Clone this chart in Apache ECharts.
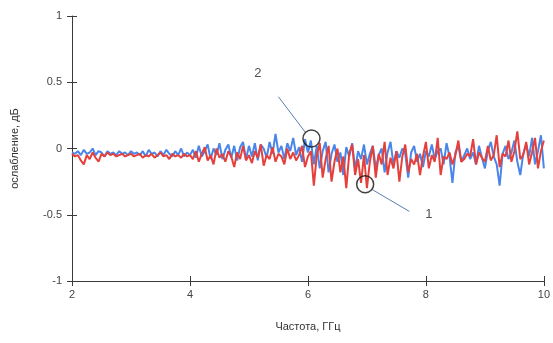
<!DOCTYPE html>
<html>
<head>
<meta charset="utf-8">
<script src="https://cdn.jsdelivr.net/npm/echarts@6/dist/echarts.min.js"></script>
<style>
  html, body { margin: 0; padding: 0; background: #fff; }
  #chart { width: 553px; height: 343px; }
</style>
</head>
<body>
<div id="chart"></div>
<script>
// frequency range, GHz
var freqStart = 2;
var freqEnd = 10;
var xTicks = [2, 4, 6, 8, 10];
var yTicks = [-1, -0.5, 0, 0.5, 1];

// series 1 (blue)
var blueValues = [
  -0.03,-0.04,-0.02,-0.05,-0.01,-0.04,-0.03,0.0,-0.05,-0.02,-0.03,-0.06,-0.02,-0.04,-0.03,-0.05,-0.02,-0.04,-0.03,-0.05,-0.02,
  -0.04,-0.03,-0.05,-0.02,-0.06,-0.01,-0.04,-0.03,-0.06,-0.02,-0.05,-0.01,-0.04,-0.06,-0.02,-0.05,0.0,-0.06,-0.03,-0.05,
  -0.01,-0.07,0.02,-0.06,-0.02,0.03,-0.08,0.0,-0.05,0.04,-0.08,-0.01,0.03,-0.07,0.02,-0.09,0.01,0.05,-0.08,0.02,
  -0.06,0.04,-0.09,0.03,0.0,-0.07,0.05,-0.04,0.11,-0.03,0.02,-0.08,0.04,-0.02,0.08,-0.05,0.01,-0.1,0.07,-0.03,
  0.06,-0.12,0.02,-0.15,-0.02,0.05,-0.18,-0.04,0.03,-0.1,-0.03,-0.2,0.01,-0.06,0.04,-0.16,-0.02,-0.08,0.03,-0.12,
  -0.04,0.02,-0.15,-0.05,0.0,-0.18,-0.03,0.05,-0.12,-0.02,-0.07,0.0,-0.04,-0.22,-0.03,0.02,-0.1,-0.04,-0.14,-0.02,
  -0.06,0.03,-0.08,-0.02,0.0,-0.12,0.04,-0.06,-0.26,-0.03,0.02,-0.1,-0.05,0.0,-0.08,-0.03,-0.12,0.02,-0.07,-0.15,
  -0.02,0.05,-0.06,-0.12,-0.28,-0.04,0.02,-0.08,-0.03,0.06,-0.1,-0.2,-0.04,0.03,-0.06,0.08,-0.12,-0.02,0.1,-0.15
];

// series 2 (red)
var redValues = [
  -0.04,-0.06,-0.05,-0.09,-0.12,-0.05,-0.08,-0.03,-0.07,-0.1,-0.04,-0.06,-0.03,-0.05,-0.04,-0.06,-0.05,-0.04,-0.06,-0.05,-0.04,
  -0.06,-0.05,-0.04,-0.07,-0.05,-0.06,-0.04,-0.07,-0.05,-0.03,-0.06,-0.05,-0.08,-0.04,-0.06,-0.05,-0.07,-0.04,-0.06,-0.05,
  -0.08,-0.02,-0.1,-0.04,0.01,-0.09,-0.05,-0.12,0.0,-0.07,-0.04,-0.1,-0.02,-0.06,-0.14,-0.03,-0.08,0.02,-0.09,-0.05,
  -0.11,-0.02,-0.07,0.03,-0.13,-0.05,-0.08,0.01,-0.1,-0.04,-0.06,-0.12,0.0,-0.08,-0.03,-0.09,-0.05,0.02,-0.14,-0.06,
  -0.02,-0.28,-0.05,0.04,-0.22,-0.08,0.02,-0.25,-0.1,0.0,-0.18,-0.06,-0.3,-0.04,0.03,-0.2,-0.08,-0.26,-0.05,-0.3,
  -0.1,0.02,-0.22,-0.04,-0.12,0.05,-0.2,-0.07,-0.15,-0.02,-0.25,-0.06,0.03,-0.18,-0.08,-0.12,-0.04,-0.2,-0.06,0.05,
  -0.15,-0.05,-0.1,0.08,-0.2,-0.06,-0.08,-0.03,-0.12,-0.05,0.06,-0.1,-0.08,-0.04,-0.06,0.07,-0.12,-0.03,-0.07,-0.1,
  0.02,-0.09,-0.05,0.1,-0.14,-0.04,-0.06,0.06,-0.1,-0.02,0.13,-0.08,-0.05,0.05,-0.12,-0.03,0.08,-0.15,-0.02,0.06
];

// annotations: circle marks, leader lines and numbers (data coords)
var circlePoints = [[6.06, 0.075], [6.97, -0.27]];
var leaderLines = [
  [[5.50, 0.39], [5.96, 0.12]],
  [[7.09, -0.31], [7.72, -0.475]]
];
var labelPoints = [[5.15, 0.57, '2'], [8.05, -0.5, '1']];

function toPairs(values) {
  var step = (freqEnd - freqStart) / (values.length - 1);
  return values.map(function (v, i) { return [freqStart + i * step, v]; });
}

var font = 'Liberation Sans, Arial, sans-serif';
var axisColor = '#3a3a3a';

var chart = echarts.init(document.getElementById('chart'));
chart.setOption({
  animation: false,
  backgroundColor: '#fff',
  grid: { left: 72, right: 8, top: 16, bottom: 62 },
  xAxis: [{
    type: 'value', min: freqStart, max: freqEnd, interval: 2,
    name: 'Частота, ГГц', nameLocation: 'middle', nameGap: 40,
    nameTextStyle: { fontFamily: font, fontSize: 11, color: '#333' },
    axisLine: { show: true, onZero: false, lineStyle: { color: axisColor, width: 1 } },
    axisTick: { show: true, length: 5, lineStyle: { color: axisColor } },
    axisLabel: { fontFamily: font, fontSize: 11, color: '#444', margin: 8 },
    splitLine: { show: false }
  }, {
    type: 'value', min: freqStart, max: freqEnd, interval: 2, position: 'bottom',
    axisLine: { show: false, onZero: false },
    axisTick: { show: true, inside: true, length: 5, lineStyle: { color: axisColor } },
    axisLabel: { show: false }, splitLine: { show: false }
  }],
  yAxis: [{
    type: 'value', min: -1, max: 1, interval: 0.5,
    name: 'ослабление, дБ', nameLocation: 'middle', nameGap: 52,
    nameTextStyle: { fontFamily: font, fontSize: 11, color: '#333' },
    axisLine: { show: true, onZero: false, lineStyle: { color: axisColor, width: 1 } },
    axisTick: { show: true, length: 5, lineStyle: { color: axisColor } },
    axisLabel: { fontFamily: font, fontSize: 11, color: '#444', margin: 10 },
    splitLine: { show: false }
  }, {
    type: 'value', min: -1, max: 1, interval: 0.5, position: 'left',
    axisLine: { show: false, onZero: false },
    axisTick: { show: true, inside: true, length: 5, lineStyle: { color: axisColor } },
    axisLabel: { show: false }, splitLine: { show: false }
  }],
  series: [{
    name: 'blue', type: 'line', data: toPairs(blueValues),
    showSymbol: false, lineStyle: { color: '#4a86ea', width: 2 },
    itemStyle: { color: '#4a86ea' }, z: 2
  }, {
    name: 'red', type: 'line', data: toPairs(redValues),
    showSymbol: false, lineStyle: { color: '#e5403b', width: 2 },
    itemStyle: { color: '#e5403b' }, z: 3,
    markLine: {
      silent: true, symbol: ['none', 'none'],
      lineStyle: { color: '#5a7fad', width: 1, type: 'solid' },
      label: { show: false },
      data: leaderLines.map(function (l) {
        return [{ coord: l[0] }, { coord: l[1] }];
      })
    }
  }, {
    name: 'circles', type: 'scatter', data: circlePoints, z: 5,
    symbol: 'circle', symbolSize: 17,
    itemStyle: { color: 'rgba(0,0,0,0)', borderColor: '#111', borderWidth: 1.5 }
  }, {
    name: 'labels', type: 'scatter', data: labelPoints, z: 5,
    symbolSize: 0,
    label: {
      show: true, position: 'inside', fontFamily: font, fontSize: 13, color: '#222',
      formatter: function (p) { return p.data[2]; }
    }
  }]
});
</script>
</body>
</html>
